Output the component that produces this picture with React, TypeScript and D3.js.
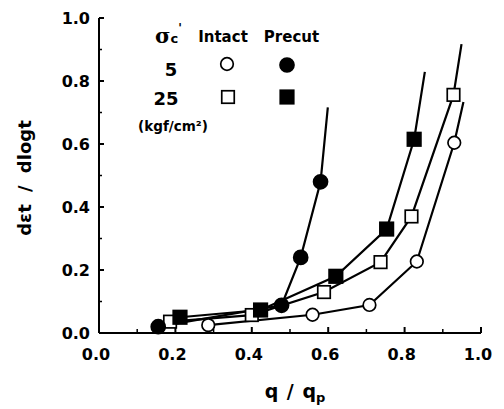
import React from "react";
import * as d3 from "d3";

// Data
const xTicks = [0, 0.2, 0.4, 0.6, 0.8, 1.0];
const yTicks = [0, 0.2, 0.4, 0.6, 0.8, 1.0];

const intact5X = [0.286, 0.559, 0.708, 0.832, 0.93];
const intact5Y = [0.025, 0.058, 0.089, 0.227, 0.604];
const intact5End = [0.954, 0.733];

const intact25X = [0.186, 0.4, 0.589, 0.737, 0.818, 0.928];
const intact25Y = [0.036, 0.057, 0.13, 0.225, 0.37, 0.756];
const intact25End = [0.949, 0.917];

const precut5X = [0.155, 0.478, 0.528, 0.58];
const precut5Y = [0.02, 0.088, 0.24, 0.48];
const precut5End = [0.599, 0.716];

const precut25X = [0.212, 0.423, 0.62, 0.753, 0.825];
const precut25Y = [0.05, 0.073, 0.18, 0.33, 0.615];
const precut25End = [0.853, 0.829];

const seriesList = [
  { xs: intact5X, ys: intact5Y, end: intact5End, shape: "circle", filled: false },
  { xs: intact25X, ys: intact25Y, end: intact25End, shape: "square", filled: false },
  { xs: precut25X, ys: precut25Y, end: precut25End, shape: "square", filled: true },
  { xs: precut5X, ys: precut5Y, end: precut5End, shape: "circle", filled: true },
];

const W = 504;
const H = 409;
const x = d3.scaleLinear().domain([0, 1]).range([99, 481]);
const y = d3.scaleLinear().domain([0, 1]).range([333, 18]);

const FONT = "'DejaVu Sans', 'Liberation Sans', Arial, sans-serif";

function Marker({ cx, cy, shape, filled }: { cx: number; cy: number; shape: string; filled: boolean }) {
  const fill = filled ? "#000" : "#fff";
  if (shape === "circle") {
    return <circle cx={cx} cy={cy} r={filled ? 7 : 6.3} fill={fill} stroke="#000" strokeWidth={1.7} />;
  }
  const s = filled ? 13.5 : 12.5;
  return <rect x={cx - s / 2} y={cy - s / 2} width={s} height={s} fill={fill} stroke="#000" strokeWidth={1.7} />;
}

export default function App() {
  const line = d3
    .line<[number, number]>()
    .x((d) => x(d[0]))
    .y((d) => y(d[1]));

  const minorX = d3.range(0.1, 1.0, 0.2);
  const minorY = d3.range(0.1, 1.0, 0.2);

  return (
    <svg
      width={W}
      height={H}
      style={{ position: "absolute", left: 0, top: 0, background: "#fff" }}
      fontFamily={FONT}
    >
      <rect x={0} y={0} width={W} height={H} fill="#fff" />
      {/* axes */}
      <line x1={x(0)} y1={y(1)} x2={x(0)} y2={y(0)} stroke="#000" strokeWidth={2} />
      <line x1={x(0)} y1={y(0)} x2={x(1)} y2={y(0)} stroke="#000" strokeWidth={2} />
      {yTicks.map((t) => (
        <g key={"y" + t}>
          <line x1={x(0)} x2={x(0) + 5} y1={y(t)} y2={y(t)} stroke="#000" strokeWidth={2} />
          <text x={90} y={y(t) + 6} textAnchor="end" fontSize={16} fontWeight="bold">
            {t.toFixed(1)}
          </text>
        </g>
      ))}
      {minorY.map((t) => (
        <line key={"my" + t} x1={x(0)} x2={x(0) + 3} y1={y(t)} y2={y(t)} stroke="#000" strokeWidth={1.5} />
      ))}
      {xTicks.map((t) => (
        <g key={"x" + t}>
          <line x1={x(t)} x2={x(t)} y1={y(0)} y2={y(0) - 6} stroke="#000" strokeWidth={2} />
          <text x={x(t) - 3} y={360} textAnchor="middle" fontSize={16} fontWeight="bold">
            {t.toFixed(1)}
          </text>
        </g>
      ))}
      {minorX.map((t) => (
        <line key={"mx" + t} x1={x(t)} x2={x(t)} y1={y(0)} y2={y(0) - 4} stroke="#000" strokeWidth={1.5} />
      ))}

      {/* axis titles */}
      <text x={295} y={398} textAnchor="middle" fontSize={19} fontWeight="bold" wordSpacing={2}>
        q / q<tspan fontSize={13} dy={4}>p</tspan>
      </text>
      <text
        transform={`translate(31, 178) rotate(-90)`}
        textAnchor="middle"
        fontSize={18}
        fontWeight="bold"
        wordSpacing={6}
      >
        dεt / dlogt
      </text>

      {/* series lines */}
      {seriesList.map((s, i) => {
        const pts: [number, number][] = s.xs.map((v, j) => [v, s.ys[j]] as [number, number]);
        pts.push([s.end[0], s.end[1]]);
        return <path key={"l" + i} d={line(pts) || ""} fill="none" stroke="#000" strokeWidth={2.2} />;
      })}
      {/* markers */}
      {seriesList.map((s, i) =>
        s.xs.map((v, j) => (
          <Marker key={"m" + i + "-" + j} cx={x(v)} cy={y(s.ys[j])} shape={s.shape} filled={s.filled} />
        ))
      )}

      {/* legend */}
      <text x={155} y={43} fontWeight="bold">
        <tspan fontFamily="'DejaVu Serif', 'Liberation Serif', serif" fontSize={21}>σ</tspan>
        <tspan fontSize={13}>c</tspan>
        <tspan fontSize={12} dx={0} dy={-11}>'</tspan>
      </text>
      <text x={223} y={42} textAnchor="middle" fontSize={15} fontWeight="bold">Intact</text>
      <text x={291.5} y={42} textAnchor="middle" fontSize={15} fontWeight="bold">Precut</text>
      <text x={171} y={76} textAnchor="middle" fontSize={18} fontWeight="bold">5</text>
      <text x={166} y={105} textAnchor="middle" fontSize={18} fontWeight="bold">25</text>
      <text x={173} y={131} textAnchor="middle" fontSize={13.5} fontWeight="bold">(kgf/cm²)</text>
      <Marker cx={227} cy={64} shape="circle" filled={false} />
      <Marker cx={287} cy={65} shape="circle" filled={true} />
      <Marker cx={228} cy={97} shape="square" filled={false} />
      <Marker cx={287} cy={97} shape="square" filled={true} />
    </svg>
  );
}
